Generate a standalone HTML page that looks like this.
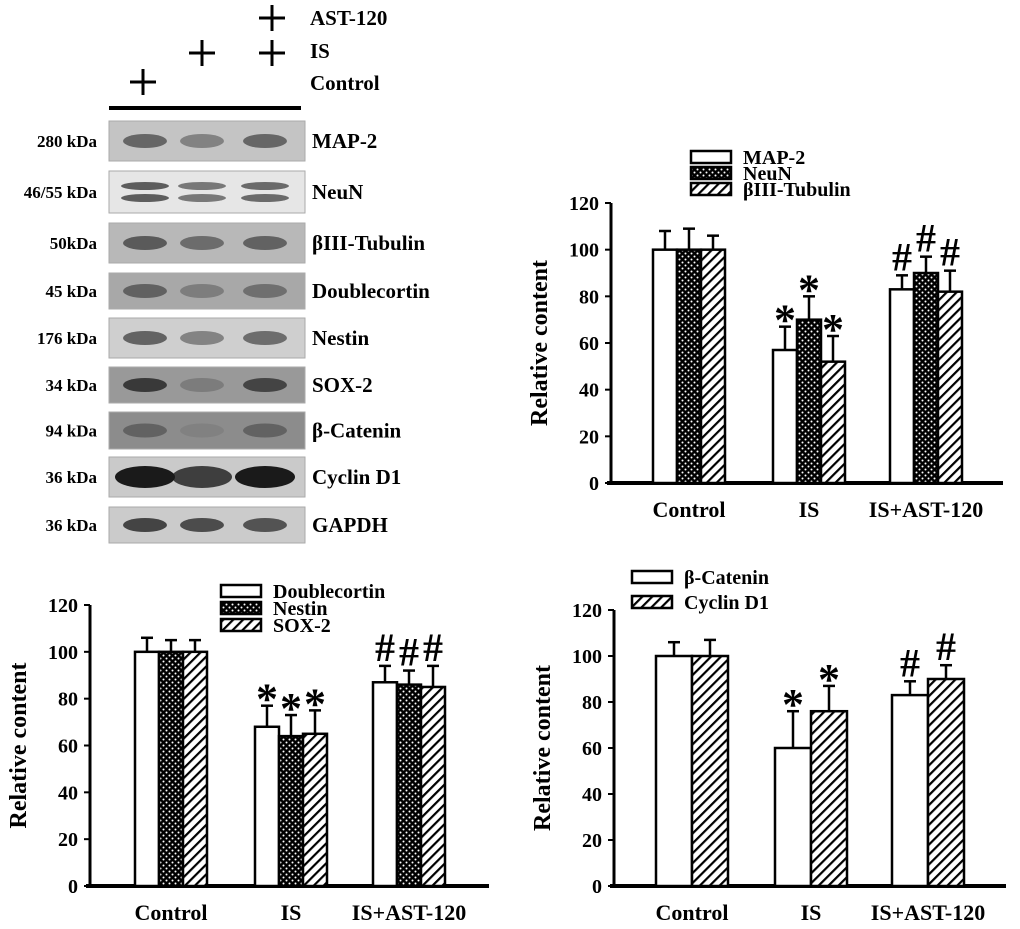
<!DOCTYPE html>
<html><head><meta charset="utf-8"><style>
body{margin:0;background:#fff;width:1020px;height:924px;overflow:hidden;font-family:"Liberation Serif",serif;font-weight:bold}
svg text{font-family:"Liberation Serif",serif;font-weight:bold}
</style></head><body>
<svg id="fig" width="1020" height="924" xmlns="http://www.w3.org/2000/svg">
<defs>
<pattern id="dots" width="6" height="6" patternUnits="userSpaceOnUse"><rect width="6" height="6" fill="#000"/><circle cx="1.5" cy="1.5" r="1" fill="#fff"/><circle cx="4.5" cy="4.5" r="1" fill="#fff"/></pattern>
<pattern id="hatch" width="7" height="7" patternUnits="userSpaceOnUse" patternTransform="rotate(45)"><rect width="7" height="7" fill="#fff"/><rect x="0" width="2.2" height="7" fill="#000"/></pattern>
</defs>
<g id="blot"></g>
<g id="c1"></g>
<g id="c2"></g>
<g id="c3"></g>
</svg>
<script>
const NS='http://www.w3.org/2000/svg';
const groups=['Control','IS','IS+AST-120'];
const yTicks=[0,20,40,60,80,100,120];
// chart 1
const c1Series=['MAP-2','NeuN','βIII-Tubulin'];
const c1Values=[[100,57,83],[100,70,90],[100,52,82]];
const c1Errors=[[8,10,6],[9,10,7],[6,11,9]];
const c1Marks=[['','*','#'],['','*','#'],['','*','#']];
// chart 2
const c2Series=['Doublecortin','Nestin','SOX-2'];
const c2Values=[[100,68,87],[100,64,86],[100,65,85]];
const c2Errors=[[6,9,7],[5,9,6],[5,10,9]];
const c2Marks=[['','*','#'],['','*','#'],['','*','#']];
// chart 3
const c3Series=['β-Catenin','Cyclin D1'];
const c3Values=[[100,60,83],[100,76,90]];
const c3Errors=[[6,16,6],[7,11,6]];
const c3Marks=[['','*','#'],['','*','#']];
// blot
const blotLabels=['MAP-2','NeuN','βIII-Tubulin','Doublecortin','Nestin','SOX-2','β-Catenin','Cyclin D1','GAPDH'];
const blotKda=['280 kDa','46/55 kDa','50kDa','45 kDa','176 kDa','34 kDa','94 kDa','36 kDa','36 kDa'];

function el(tag,attrs,parent,txt){const e=document.createElementNS(NS,tag);for(const k in attrs)e.setAttribute(k,attrs[k]);if(txt!==undefined)e.textContent=txt;parent.appendChild(e);return e;}
const fills=['#fff','url(#dots)','url(#hatch)'];

function chart(g,cfg,series,values,errors,marks){
  const y=v=>cfg.y0-(v/120)*(cfg.y0-cfg.y120);
  el('line',{x1:cfg.ax,y1:cfg.y120,x2:cfg.ax,y2:cfg.y0+2,stroke:'#000','stroke-width':3},g);
  el('line',{x1:cfg.ax-4,y1:cfg.y0,x2:cfg.xEnd,y2:cfg.y0,stroke:'#000','stroke-width':4},g);
  yTicks.forEach(t=>{
    el('line',{x1:cfg.ax-6,y1:y(t),x2:cfg.ax,y2:y(t),stroke:'#000','stroke-width':2},g);
    const tx=el('text',{x:cfg.ax-12,y:y(t)+7,'text-anchor':'end','font-size':20},g,String(t));
    
    
  });
  const yt=el('text',{x:0,y:0,transform:`translate(${cfg.ax-64},${(cfg.y0+cfg.y120)/2}) rotate(-90)`,'text-anchor':'middle','font-size':24},g,'Relative content');
  
  const n=series.length,bw=cfg.gw/n;
  groups.forEach((gname,gi)=>{
    const gx=cfg.gx[gi];
    const lab=el('text',{x:gx+cfg.gw/2,y:cfg.y0+34,'text-anchor':'middle','font-size':22},g,gname);
    
    series.forEach((s,si)=>{
      const v=values[si][gi],e=errors[si][gi],x=gx+si*bw,cx=x+bw/2;
      el('line',{x1:cx,y1:y(v),x2:cx,y2:y(v+e),stroke:'#000','stroke-width':2.5},g);
      el('line',{x1:cx-6,y1:y(v+e),x2:cx+6,y2:y(v+e),stroke:'#000','stroke-width':2.5},g);
      const r=el('rect',{x:x,y:y(v),width:bw,height:cfg.y0-y(v),fill:fills[cfg.fillIdx[si]],stroke:'#000','stroke-width':2.5},g);
      
      
      const m=marks[si][gi];
      if(m){const mt=el('text',{x:cx,y:y(v+e)-(m==='*'?-8:5),'text-anchor':'middle','font-size':m==='*'?44:40,'font-family':'Liberation Serif','font-weight':'normal'},g,m);
        }
    });
  });
  series.forEach((s,si)=>{
    const ly=cfg.legY+si*cfg.legDy;
    el('rect',{x:cfg.legX,y:ly-6,width:40,height:12,fill:fills[cfg.fillIdx[si]],stroke:'#000','stroke-width':2.5},g);
    const t=el('text',{x:cfg.legX+52,y:ly+7,'font-size':20},g,s);
    
  });
}
chart(document.getElementById('c1'),{ax:611,y0:483,y120:203,xEnd:1003,gx:[653,773,890],gw:72,fillIdx:[0,1,2],legX:691,legY:157,legDy:16},c1Series,c1Values,c1Errors,c1Marks);
chart(document.getElementById('c2'),{ax:90,y0:886,y120:605,xEnd:489,gx:[135,255,373],gw:72,fillIdx:[0,1,2],legX:221,legY:591,legDy:17},c2Series,c2Values,c2Errors,c2Marks);
chart(document.getElementById('c3'),{ax:614,y0:886,y120:610,xEnd:1006,gx:[656,775,892],gw:72,fillIdx:[0,2],legX:632,legY:577,legDy:25},c3Series,c3Values,c3Errors,c3Marks);

// blot
const b=document.getElementById('blot');
const plus=[[143,82],[202,53],[272,53],[272,18]];
plus.forEach(p=>{el('line',{x1:p[0]-13,y1:p[1],x2:p[0]+13,y2:p[1],stroke:'#000','stroke-width':3},b);el('line',{x1:p[0],y1:p[1]-13,x2:p[0],y2:p[1]+13,stroke:'#000','stroke-width':3},b);});
[['AST-120',25],['IS',58],['Control',90]].forEach(a=>{const t=el('text',{x:310,y:a[1],'font-size':21},b,a[0]);});
el('line',{x1:109,y1:108,x2:301,y2:108,stroke:'#000','stroke-width':4},b);
const rows=[[121,161,'#c4c4c4',0.55],[171,213,'#e6e6e6',0.7],[223,263,'#b8b8b8',0.6],[273,309,'#a8a8a8',0.5],[318,358,'#cfcfcf',0.6],[367,403,'#999',0.75],[412,449,'#8c8c8c',0.45],[457,497,'#cacaca',1],[507,543,'#cbcbcb',0.85]];
const bandStr=[[1,0.7,1],[1,0.8,0.9],[1,0.8,0.9],[1,0.6,0.8],[1,0.7,0.9],[1,0.3,0.9],[0.8,0.2,0.8],[1,0.8,1],[0.9,0.85,0.8]];
rows.forEach((r,i)=>{
  const rr=el('rect',{x:109,y:r[0],width:196,height:r[1]-r[0],fill:r[2],stroke:'#aaa','stroke-width':1},b);
  
  const cy=(r[0]+r[1])/2;
  [145,202,265].forEach((x,j)=>{
    const s=bandStr[i][j]*r[3];
    if(i===1){el('ellipse',{cx:x,cy:cy-6,rx:24,ry:4,fill:'#222','fill-opacity':s},b);el('ellipse',{cx:x,cy:cy+6,rx:24,ry:4,fill:'#222','fill-opacity':s},b);}
    else el('ellipse',{cx:x,cy:cy,rx:i===7?30:22,ry:i===7?11:7,fill:'#1a1a1a','fill-opacity':s},b);
  });
  const l=el('text',{x:312,y:cy+7,'font-size':21},b,blotLabels[i]);
  const k=el('text',{x:97,y:cy+6,'text-anchor':'end','font-size':17},b,blotKda[i]);
});
</script>
</body></html>
